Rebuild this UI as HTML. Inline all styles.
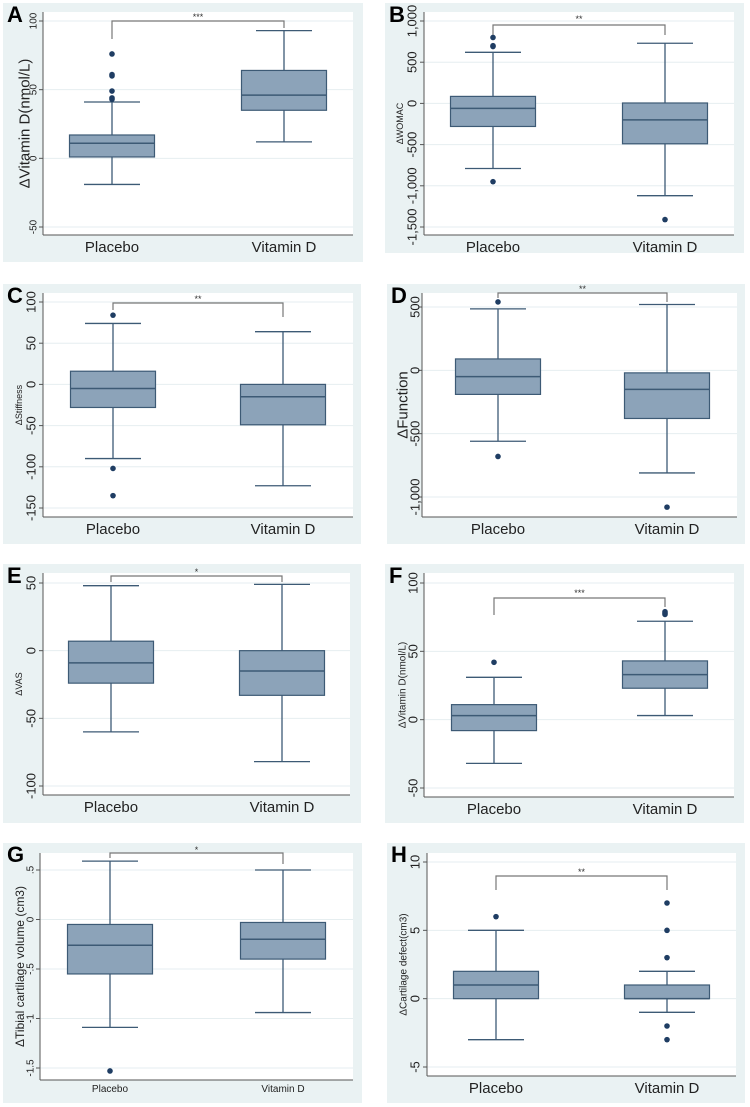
<!DOCTYPE html>
<html><head><meta charset="utf-8">
<style>
html,body{margin:0;padding:0;background:#fff;}
svg{display:block;font-family:"Liberation Sans",sans-serif;}
</style></head>
<body>
<svg id="fig" width="750" height="1107" viewBox="0 0 750 1107" xmlns="http://www.w3.org/2000/svg"></svg>
<script>
// ---- data: [lower whisker, q1, median, q3, upper whisker] ----
const categories = ["Placebo", "Vitamin D"];
const A_placebo = [-19, 1, 11, 17, 41];   const A_vitd = [12, 35, 46, 64, 93];
const A_out_placebo = [43, 44, 49, 60, 61, 76]; const A_out_vitd = [];
const A_ticks = [100, 50, 0, -50];        const A_tickLabels = ["100", "50", "0", "-50"];
const B_placebo = [-790, -280, -60, 85, 620]; const B_vitd = [-1120, -490, -200, 5, 730];
const B_out_placebo = [690, 700, 800, -950];  const B_out_vitd = [-1410];
const B_ticks = [1000, 500, 0, -500, -1000, -1500]; const B_tickLabels = ["1,000", "500", "0", "-500", "-1,000", "-1,500"];
const C_placebo = [-90, -28, -5, 16, 74]; const C_vitd = [-123, -49, -15, 0, 64];
const C_out_placebo = [84, -102, -135];   const C_out_vitd = [];
const C_ticks = [100, 50, 0, -50, -100, -150]; const C_tickLabels = ["100", "50", "0", "-50", "-100", "-150"];
const D_placebo = [-560, -190, -50, 90, 485]; const D_vitd = [-810, -380, -150, -20, 520];
const D_out_placebo = [540, -680];        const D_out_vitd = [-1080];
const D_ticks = [500, 0, -500, -1000];    const D_tickLabels = ["500", "0", "-500", "-1,000"];
const E_placebo = [-60, -24, -9, 7, 48];  const E_vitd = [-82, -33, -15, 0, 49];
const E_out_placebo = [];                 const E_out_vitd = [];
const E_ticks = [50, 0, -50, -100];       const E_tickLabels = ["50", "0", "-50", "-100"];
const F_placebo = [-32, -8, 3, 11, 31];   const F_vitd = [3, 23, 33, 43, 72];
const F_out_placebo = [42];               const F_out_vitd = [77, 78, 79];
const F_ticks = [100, 50, 0, -50];        const F_tickLabels = ["100", "50", "0", "-50"];
const G_placebo = [-1.09, -0.55, -0.26, -0.05, 0.59]; const G_vitd = [-0.94, -0.4, -0.2, -0.03, 0.5];
const G_out_placebo = [-1.53];            const G_out_vitd = [];
const G_ticks = [0.5, 0, -0.5, -1, -1.5]; const G_tickLabels = [".5", "0", "-.5", "-1", "-1.5"];
const H_placebo = [-3, 0, 1, 2, 5];       const H_vitd = [-1, 0, 0, 1, 2];
const H_out_placebo = [6];                const H_out_vitd = [7, 5, 3, -2, -3];
const H_ticks = [10, 5, 0, -5];           const H_tickLabels = ["10", "5", "0", "-5"];
const stars = ["***", "**", "**", "**", "*", "***", "*", "**"];

// ---- layout (pixels) ----
const panels = [
 {id:"a",letter:"A",bg:[3,3,360,259],pl:43,pr:353,pt:12,pb:235,t0:[100,21],t1:[-50,227],cx:[112,284],
  title:"ΔVitamin D(nmol/L)",tfs:15,tx:24,tlx:33,tlfs:10,xfs:15,
  pb1:A_placebo,pb2:A_vitd,o1:A_out_placebo,o2:A_out_vitd,ticks:A_ticks,tl:A_tickLabels,br:[21,39,28],sy:17},
 {id:"b",letter:"B",bg:[385,3,359,250],pl:424,pr:734,pt:12,pb:235,t0:[1000,21],t1:[-1500,227],cx:[493,665],
  title:"ΔWOMAC",tfs:9,tx:400,tlx:412,tlfs:13,xfs:15,
  pb1:B_placebo,pb2:B_vitd,o1:B_out_placebo,o2:B_out_vitd,ticks:B_ticks,tl:B_tickLabels,br:[25,35,35],sy:19},
 {id:"c",letter:"C",bg:[3,284,358,260],pl:43,pr:353,pt:293,pb:517,t0:[100,302],t1:[-150,508],cx:[113,283],
  title:"ΔStiffness",tfs:9,tx:19,tlx:31,tlfs:13,xfs:15,
  pb1:C_placebo,pb2:C_vitd,o1:C_out_placebo,o2:C_out_vitd,ticks:C_ticks,tl:C_tickLabels,br:[303,310,317],sy:299},
 {id:"d",letter:"D",bg:[387,284,358,260],pl:422,pr:737,pt:293,pb:517,t0:[500,307],t1:[-1000,497],cx:[498,667],
  title:"ΔFunction",tfs:15,tx:402,tlx:415,tlfs:13,xfs:15,
  pb1:D_placebo,pb2:D_vitd,o1:D_out_placebo,o2:D_out_vitd,ticks:D_ticks,tl:D_tickLabels,br:[293,298,302],sy:289},
 {id:"e",letter:"E",bg:[3,564,358,259],pl:43,pr:350,pt:573,pb:795,t0:[50,583],t1:[-100,786],cx:[111,282],
  title:"ΔVAS",tfs:9,tx:19,tlx:31,tlfs:13,xfs:15,
  pb1:E_placebo,pb2:E_vitd,o1:E_out_placebo,o2:E_out_vitd,ticks:E_ticks,tl:E_tickLabels,br:[576,582,582],sy:572},
 {id:"f",letter:"F",bg:[385,564,359,259],pl:424,pr:734,pt:573,pb:797,t0:[100,583],t1:[-50,788],cx:[494,665],
  title:"ΔVitamin D(nmol/L)",tfs:10,tx:402,tlx:413,tlfs:13,xfs:15,
  pb1:F_placebo,pb2:F_vitd,o1:F_out_placebo,o2:F_out_vitd,ticks:F_ticks,tl:F_tickLabels,br:[598,615,607],sy:593},
 {id:"g",letter:"G",bg:[3,843,359,260],pl:40,pr:353,pt:853,pb:1080,t0:[0.5,870],t1:[-1.5,1068],cx:[110,283],
  title:"ΔTibial cartilage volume (cm3)",tfs:12,tx:20,tlx:30,tlfs:10,xfs:10,
  pb1:G_placebo,pb2:G_vitd,o1:G_out_placebo,o2:G_out_vitd,ticks:G_ticks,tl:G_tickLabels,br:[853,858,864],sy:850},
 {id:"h",letter:"H",bg:[387,843,358,260],pl:427,pr:736,pt:853,pb:1076,t0:[10,862],t1:[-5,1067],cx:[496,667],
  title:"ΔCartilage defect(cm3)",tfs:10,tx:403,tlx:415,tlfs:13,xfs:15,
  pb1:H_placebo,pb2:H_vitd,o1:H_out_placebo,o2:H_out_vitd,ticks:H_ticks,tl:H_tickLabels,br:[876,890,890],sy:872}
];

const NS = "http://www.w3.org/2000/svg";
const svg = document.getElementById("fig");
function mk(tag, attrs, parent, text) {
  const e = document.createElementNS(NS, tag);
  for (const k in attrs) e.setAttribute(k, attrs[k]);
  if (text !== undefined) e.textContent = text;
  parent.appendChild(e);
  return e;
}
const LINE = "#3d5a75", FILL = "#8ca3b9", DOT = "#1f3d63";

panels.forEach((p, pi) => {
  const y = v => p.t0[1] + (v - p.t0[0]) * (p.t1[1] - p.t0[1]) / (p.t1[0] - p.t0[0]);
  const g = mk("g", {}, svg);
  
  
  const bg = mk("rect", {x:p.bg[0], y:p.bg[1], width:p.bg[2], height:p.bg[3], fill:"#eaf2f3"}, g);
  
  
  const pa = mk("rect", {x:p.pl, y:p.pt, width:p.pr - p.pl, height:p.pb - p.pt, fill:"#fff"}, g);
  
  
  p.ticks.forEach((t, i) => {
    const ty = y(t);
    const gl = mk("line", {x1:p.pl, x2:p.pr, y1:ty, y2:ty, stroke:"#e6eef0", "stroke-width":1}, g);
    
    
    mk("line", {x1:p.pl - 4, x2:p.pl, y1:ty, y2:ty, stroke:"#555", "stroke-width":1}, g);
    const tl = mk("text", {x:p.tlx, y:ty, "font-size":p.tlfs, fill:"#222", "text-anchor":"middle",
      transform:`rotate(-90 ${p.tlx} ${ty})`, dy:"0.35em"}, g, p.tl[i]);
    
    
  });
  mk("line", {x1:p.pl, x2:p.pl, y1:p.pt, y2:p.pb, stroke:"#555", "stroke-width":1}, g);
  mk("line", {x1:p.pl, x2:p.pr, y1:p.pb, y2:p.pb, stroke:"#555", "stroke-width":1}, g);
  const cy = (p.pt + p.pb) / 2;
  const yt = mk("text", {x:p.tx, y:cy, "font-size":p.tfs, fill:"#222", "text-anchor":"middle",
    transform:`rotate(-90 ${p.tx} ${cy})`, dy:"0.35em"}, g, p.title);
  
  
  const lt = mk("text", {x:p.bg[0] + 4, y:p.bg[1] + 19, "font-size":22, "font-weight":"bold", fill:"#000"}, g, p.letter);
  
  
  const stats = [p.pb1, p.pb2], outs = [p.o1, p.o2];
  stats.forEach((s, k) => {
    const cx = p.cx[k];
    const bg2 = mk("g", {}, g);
    
    
    mk("line", {x1:cx, x2:cx, y1:y(s[0]), y2:y(s[1]), stroke:LINE, "stroke-width":1.3}, bg2);
    mk("line", {x1:cx, x2:cx, y1:y(s[3]), y2:y(s[4]), stroke:LINE, "stroke-width":1.3}, bg2);
    mk("line", {x1:cx - 28, x2:cx + 28, y1:y(s[0]), y2:y(s[0]), stroke:LINE, "stroke-width":1.3}, bg2);
    mk("line", {x1:cx - 28, x2:cx + 28, y1:y(s[4]), y2:y(s[4]), stroke:LINE, "stroke-width":1.3}, bg2);
    mk("rect", {x:cx - 42.5, y:y(s[3]), width:85, height:y(s[1]) - y(s[3]), fill:FILL, stroke:LINE, "stroke-width":1.2}, bg2);
    mk("line", {x1:cx - 42.5, x2:cx + 42.5, y1:y(s[2]), y2:y(s[2]), stroke:LINE, "stroke-width":1.5}, bg2);
    outs[k].forEach(v => {
      const c = mk("circle", {cx:cx, cy:y(v), r:2.8, fill:DOT}, bg2);
      
      
    });
    const xl = mk("text", {x:cx, y:p.pb + (p.xfs > 12 ? 17 : 12), "font-size":p.xfs, fill:"#222", "text-anchor":"middle"}, g, categories[k]);
    
    
  });
  const [by, l1, l2] = p.br;
  const br = mk("path", {d:`M${p.cx[0]},${l1} V${by} H${p.cx[1]} V${l2}`, fill:"none", stroke:"#777", "stroke-width":1.2}, g);
  
  
  const st = mk("text", {x:(p.cx[0] + p.cx[1]) / 2, y:p.sy + 3, "font-size":9, fill:"#333", "text-anchor":"middle"}, g, stars[pi]);
  
  
});
</script>
</body></html>
